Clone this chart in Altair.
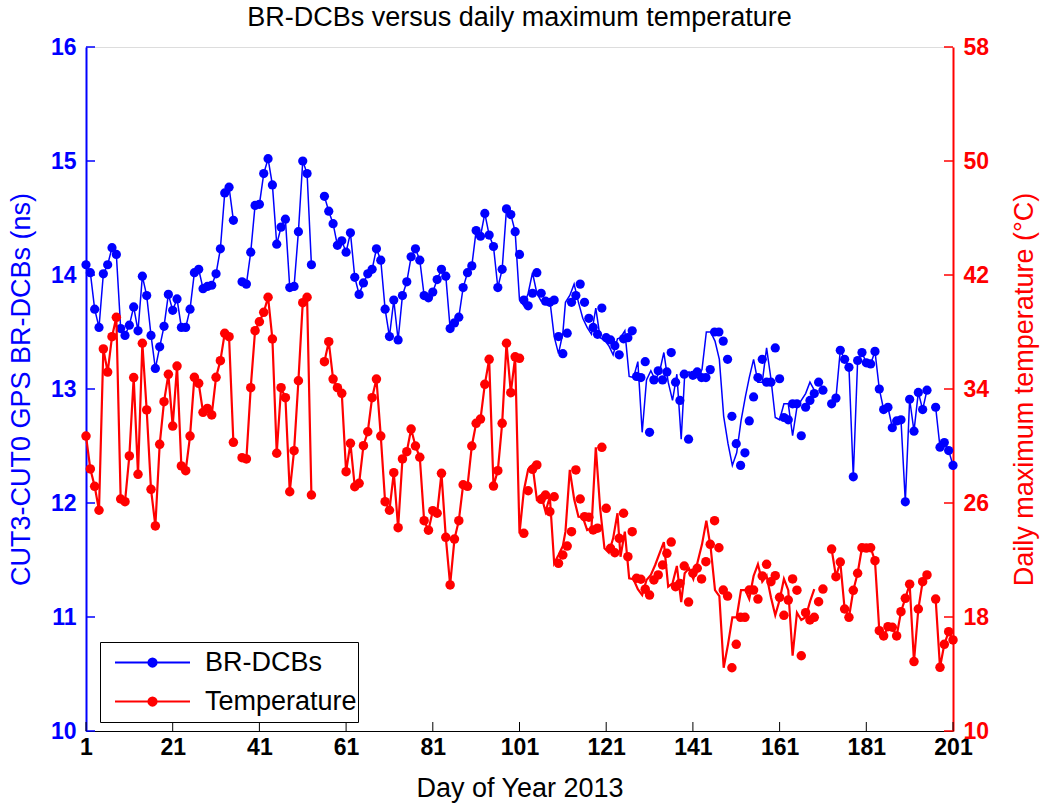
import altair as alt
import pandas as pd

days = list(range(1, 202))

dcb = [
    14.09, 14.02, 13.70, 13.54, 14.01, 14.09, 14.24, 14.18, 13.53, 13.47,
    13.56, 13.72, 13.51, 13.99, 13.82, 13.47, 13.18, 13.37, 13.55, 13.83,
    13.69, 13.79, 13.54, 13.54, 13.70, 14.02, 14.05, 13.88, 13.90, 13.91,
    14.01, 14.23, 14.72, 14.77, 14.48, None, 13.94, 13.92, 14.20, 14.61,
    14.62, 14.89, 15.02, 14.79, 14.27, 14.42, 14.49, 13.89, 13.90, 14.38,
    15.00, 14.89, 14.09, None, None, 14.69, 14.56, 14.45, 14.26, 14.30,
    14.20, 14.37, 13.98, 13.83, 13.93, 14.01, 14.05, 14.23, 14.13, 13.70,
    13.46, 13.78, 13.43, 13.82, 13.94, 14.16, 14.23, 14.13, 13.82, 13.80,
    13.85, 13.96, 14.05, 13.99, 13.53, 13.58, 13.63, 13.89, 14.02, 14.08,
    14.39, 14.34, 14.54, 14.35, 14.25, 13.89, 14.05, 14.58, 14.53, 14.38,
    14.18, 13.78, 13.73, 13.84, 14.02, 13.84, 13.77, 13.76, 13.78, 13.46,
    13.31, 13.49, 13.76, 13.82, 13.92, 13.76, 13.62, 13.54, 13.48, 13.71,
    13.45, 13.43, 13.38, 13.30, 13.44, 13.45, 13.51, 13.11, 13.10, 13.24,
    12.62, 13.08, 13.16, 13.08, 13.15, 13.32, 13.06, 12.90, 13.13, 12.56,
    13.12, 13.15, 13.10, 13.10, 13.17, 13.50, 13.50, 13.42, 13.26, 12.76,
    12.52, 12.33, 12.44, 12.72, 12.93, 13.10, 13.26, 13.06, 13.06, 13.36,
    13.09, 12.75, 12.73, 12.87, 12.87, 12.59, 12.84, 12.90, 12.96, 13.06,
    12.99, None, 12.87, 12.92, 13.34, 13.26, 13.19, 12.23, 13.25, 13.32,
    13.23, 13.22, 13.33, 13.00, 12.82, 12.84, 12.66, 12.72, 12.73, 12.01,
    12.91, 12.63, 12.97, 12.82, 12.99, None, 12.84, 12.49, 12.53, 12.46,
    12.33,
]

temp = [
    30.70, 28.39, 27.17, 25.49, 36.81, 35.19, 37.67, 39.03, 26.28, 26.09,
    29.30, 34.80, 28.01, 37.21, 32.53, 26.96, 24.39, 30.12, 33.11, 35.03,
    31.40, 35.61, 28.60, 28.27, 30.70, 34.82, 34.40, 32.36, 32.64, 32.18,
    34.82, 35.99, 37.91, 37.67, 30.26, None, 29.18, 29.09, 34.09, 38.09,
    38.72, 39.38, 40.44, 37.51, 29.49, 34.09, 33.39, 26.79, 29.67, 34.58,
    40.06, 40.44, 26.56, None, None, 35.92, 37.32, 34.70, 34.09, 33.70,
    28.20, 30.19, 27.14, 27.38, 30.02, 31.00, 33.39, 34.70, 30.70, 26.09,
    25.49, 28.13, 24.27, 29.09, 29.60, 31.19, 30.00, 29.21, 24.76, 24.09,
    25.46, 25.28, 28.08, 23.59, 20.25, 23.47, 24.76, 27.28, 27.17, 30.00,
    31.59, 31.89, 34.33, 36.08, 27.19, 28.27, 31.59, 37.21, 33.74, 36.26,
    36.15, 23.87, 26.86, 28.36, 28.67, 26.26, 26.56, 25.39, 26.44, 21.77,
    22.35, 22.98, 23.99, 28.32, 26.28, 25.04, 25.00, 24.11, 24.23, 29.91,
    25.63, 22.82, 22.51, 23.52, 25.28, 22.23, 23.99, 20.72, 20.65, 19.95,
    19.54, 20.60, 20.95, 21.65, 22.47, 23.26, 20.13, 20.36, 21.58, 19.05,
    21.07, 21.42, 20.67, 21.88, 23.10, 24.76, 22.86, 19.89, 19.47, 14.44,
    16.08, 17.98, 17.98, 19.89, 19.89, 19.26, 20.88, 21.70, 20.48, 20.90,
    19.38, 18.12, 19.19, 20.67, 19.88, 15.28, 18.30, 17.79, 17.98, 19.07,
    19.96, None, 22.77, 20.83, 21.86, 18.56, 17.98, 19.87, 21.07, 22.86,
    22.84, 22.86, 21.95, 17.04, 16.67, 17.32, 17.28, 16.67, 18.37, 19.31,
    20.30, 14.87, 18.56, 20.48, 20.95, None, 19.26, 14.47, 16.08, 16.97,
    16.39,
]

# In the reference the connecting line is drawn a little to the left of the
# markers between day 101 and day 171 (the line skips day 101's sample).
# (first day, last day, shift in days).
line_skip_day = 101
line_shift_spans = [
    (102, 112, 1.0),
    (113, 125, 1.4),
    (126, 140, 1.7),
    (141, 155, 1.9),
    (156, 171, 2.0),
]

series_names = ["BR-DCBs", "Temperature"]
x_ticks = [1, 21, 41, 61, 81, 101, 121, 141, 161, 181, 201]
left_ticks = [10, 11, 12, 13, 14, 15, 16]
right_ticks = [10, 18, 26, 34, 42, 50, 58]

BLUE = "#0000ff"
RED = "#ff0000"
FONT = "Liberation Sans"
W, H = 867, 684
TXT = 27
TICK = 23


def shift_for(d):
    for a, b, s in line_shift_spans:
        if a <= d <= b:
            return s
    return 0.0


def make_points(vals, name):
    rows = []
    for d, v in zip(days, vals):
        if v is not None:
            rows.append({"day": d, "value": v, "series": name})
    return pd.DataFrame(rows)


def make_line(vals, name):
    rows = []
    seg = 0
    for d, v in zip(days, vals):
        if v is None:
            seg += 1
            continue
        if d == line_skip_day:
            continue
        rows.append({"day": d - shift_for(d), "value": v, "seg": seg, "series": name})
    return pd.DataFrame(rows)


dcb_pts_df = make_points(dcb, series_names[0])
temp_pts_df = make_points(temp, series_names[1])
dcb_line_df = make_line(dcb, series_names[0])
temp_line_df = make_line(temp, series_names[1])
xt_df = pd.DataFrame({"day": x_ticks})
lt_df = pd.DataFrame({"value": left_ticks})
rt_df = pd.DataFrame({"value": right_ticks})

xscale = alt.Scale(domain=[1, 201], nice=False, zero=False)
lscale = alt.Scale(domain=[10, 16], nice=False, zero=False)
rscale = alt.Scale(domain=[10, 58], nice=False, zero=False)
cscale = alt.Scale(domain=series_names, range=[BLUE, RED])

xaxis = alt.Axis(values=x_ticks, title="Day of Year 2013", ticks=False, tickSize=0,
                 domainColor="black", domainWidth=1, labelFont=FONT, labelFontSize=TICK,
                 labelFontWeight="bold", labelColor="black", labelPadding=5, grid=False,
                 titleFont=FONT, titleFontSize=TXT, titleFontWeight="normal",
                 titleColor="black", titlePadding=16, labelFlush=False)
laxis = alt.Axis(values=left_ticks, title="CUT3-CUT0 GPS BR-DCBs (ns)", orient="left",
                 ticks=False, tickSize=0, domainColor=BLUE, domainWidth=2,
                 labelFont=FONT, labelFontSize=TICK, labelFontWeight="bold", labelColor=BLUE,
                 labelPadding=10, grid=False, titleFont=FONT, titleFontSize=TXT,
                 titleFontWeight="normal", titleColor=BLUE, titlePadding=15)
raxis = alt.Axis(values=right_ticks, title="Daily maximum temperature (°C)", orient="right",
                 ticks=False, tickSize=0, domainColor=RED, domainWidth=2,
                 labelFont=FONT, labelFontSize=TICK, labelFontWeight="bold", labelColor=RED,
                 labelPadding=10, grid=False, titleFont=FONT, titleFontSize=TXT,
                 titleFontWeight="normal", titleColor=RED, titlePadding=23,
                 titleAngle=270, titleBaseline="top")


def circles(radii):
    return "".join(f"M{-r},0A{r},{r} 0 1,1 {r},0A{r},{r} 0 1,1 {-r},0" for r in radii)


legend_path = "M-1,0H1" + circles([0.11, 0.085, 0.06, 0.035, 0.012])
legend = alt.Legend(title=None, orient="none", legendX=14, legendY=595,
                    direction="vertical", fillColor="white", strokeColor="black",
                    padding=1, symbolType=legend_path, symbolSize=5625,
                    symbolStrokeWidth=2, symbolOffset=13, clipHeight=39,
                    labelFont=FONT, labelFontSize=TXT, labelColor="black",
                    labelOffset=14, rowPadding=0)

blue_line = alt.Chart(dcb_line_df).mark_line(strokeWidth=1.5).encode(
    x=alt.X("day:Q", scale=xscale, axis=xaxis),
    y=alt.Y("value:Q", scale=lscale, axis=laxis),
    color=alt.Color("series:N", scale=cscale, legend=legend),
    detail="seg:N",
)
blue_pts = alt.Chart(dcb_pts_df).mark_circle(size=85, opacity=1, color=BLUE).encode(
    x=alt.X("day:Q", scale=xscale, axis=xaxis),
    y=alt.Y("value:Q", scale=lscale, axis=laxis),
)
left_tick_rules = alt.Chart(lt_df).mark_rule(color=BLUE, strokeWidth=1.5).encode(
    y=alt.Y("value:Q", scale=lscale, axis=laxis),
    x=alt.value(0), x2=alt.value(9),
)
x_tick_rules = alt.Chart(xt_df).mark_rule(color="black", strokeWidth=1).encode(
    x=alt.X("day:Q", scale=xscale, axis=xaxis),
    y=alt.value(H), y2=alt.value(H - 9),
)

red_line = alt.Chart(temp_line_df).mark_line(strokeWidth=2.2).encode(
    x=alt.X("day:Q", scale=xscale, axis=xaxis),
    y=alt.Y("value:Q", scale=rscale, axis=raxis),
    color=alt.Color("series:N", scale=cscale, legend=legend),
    detail="seg:N",
)
red_pts = alt.Chart(temp_pts_df).mark_circle(size=90, opacity=1, color=RED).encode(
    x=alt.X("day:Q", scale=xscale, axis=xaxis),
    y=alt.Y("value:Q", scale=rscale, axis=raxis),
)
right_tick_rules = alt.Chart(rt_df).mark_rule(color=RED, strokeWidth=1.5).encode(
    y=alt.Y("value:Q", scale=rscale, axis=raxis),
    x=alt.value(W - 9), x2=alt.value(W),
)

left_group = alt.layer(blue_line, blue_pts, left_tick_rules, x_tick_rules)
right_group = alt.layer(red_line, red_pts, right_tick_rules)

chart = alt.layer(left_group, right_group).resolve_scale(y="independent").properties(
    width=W, height=H,
    title=alt.TitleParams("BR-DCBs versus daily maximum temperature", font=FONT,
                          fontSize=TXT, fontWeight="normal", color="black",
                          anchor="middle", offset=4),
    padding={"left": 86, "top": 47, "right": 92, "bottom": 76},
    autosize=alt.AutoSizeParams(type="none"),
).configure_view(stroke="black", strokeWidth=1).configure(background="white")

chart.save("out.html", embed_options={"renderer": "svg", "actions": False})
